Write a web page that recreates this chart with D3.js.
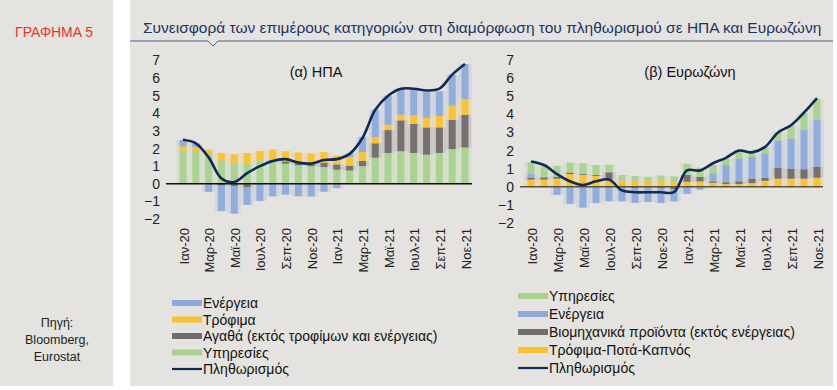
<!DOCTYPE html>
<html><head><meta charset="utf-8">
<script src="https://cdn.jsdelivr.net/npm/d3@7"></script>
<style>
body{margin:0;background:#fff;}
text{font-family:"Liberation Sans",Arial,sans-serif;}
</style></head>
<body><svg id="c" width="837" height="390"></svg>
<script>
const months = ["Ιαν-20","Φεβ-20","Μαρ-20","Απρ-20","Μαϊ-20","Ιουν-20","Ιουλ-20","Αυγ-20","Σεπ-20","Οκτ-20","Νοε-20","Δεκ-20",
                "Ιαν-21","Φεβ-21","Μαρ-21","Απρ-21","Μαϊ-21","Ιουν-21","Ιουλ-21","Αυγ-21","Σεπ-21","Οκτ-21","Νοε-21"];
const tickLabels = ["Ιαν-20","Μαρ-20","Μαϊ-20","Ιουλ-20","Σεπ-20","Νοε-20","Ιαν-21","Μαρ-21","Μαϊ-21","Ιουλ-21","Σεπ-21","Νοε-21"];
const yTicks = [-2,-1,0,1,2,3,4,5,6,7];

// (α) ΗΠΑ
const usServices = [1.9,1.86,1.68,1.33,1.14,1.14,1.33,1.3,1.14,1.05,1.0,0.95,0.8,0.75,1.0,1.48,1.75,1.85,1.75,1.65,1.75,1.97,2.06];
const usGoods    = [0,0,0,-0.1,-0.14,-0.2,0,0.05,0.13,0.09,0.12,0.25,0.3,0.28,0.3,0.82,1.3,1.75,1.65,1.55,1.45,1.66,1.86];
const usFood     = [0.23,0.23,0.26,0.42,0.53,0.61,0.53,0.6,0.57,0.63,0.6,0.6,0.5,0.5,0.5,0.35,0.3,0.32,0.5,0.55,0.65,0.8,0.88];
const usEnergy   = [0.35,0.2,-0.46,-1.45,-1.56,-1.0,-0.98,-0.71,-0.62,-0.71,-0.72,-0.45,-0.25,0.2,0.85,1.55,1.65,1.48,1.45,1.45,1.4,1.77,2.0];
const usInflation= [2.5,2.3,1.5,0.3,0.1,0.6,1.0,1.3,1.4,1.2,1.15,1.35,1.4,1.7,2.6,4.2,5.0,5.4,5.4,5.3,5.4,6.2,6.8];

// (β) Ευρωζώνη
const euFood     = [0.4,0.4,0.45,0.7,0.65,0.6,0.4,0.33,0.33,0.35,0.35,0.25,0.28,0.3,0.22,0.15,0.15,0.2,0.33,0.45,0.45,0.45,0.5];
const euIndustrial=[0.1,0.12,0.1,0.08,0.05,0.05,0.4,-0.03,-0.08,-0.03,-0.08,-0.13,0.37,0.25,0.08,0.1,0.15,0.25,0.17,0.6,0.55,0.52,0.6];
const euEnergy   = [0.2,-0.03,-0.45,-0.95,-1.15,-0.9,-0.8,-0.77,-0.81,-0.81,-0.82,-0.68,-0.39,-0.16,0.45,0.95,1.25,1.2,1.35,1.5,1.65,2.18,2.6];
const euServices = [0.65,0.72,0.6,0.55,0.6,0.55,0.42,0.32,0.27,0.2,0.27,0.32,0.62,0.5,0.45,0.35,0.45,0.25,0.35,0.45,0.7,0.9,1.15];
const euInflation= [1.4,1.2,0.7,0.3,0.1,0.3,0.4,-0.2,-0.3,-0.3,-0.3,-0.3,0.9,0.9,1.3,1.6,2.0,1.9,2.2,3.0,3.4,4.1,4.9];

const C = {green:"#a9d18e", blue:"#8eaadb", yellow:"#f9c131", gray:"#716d6d", line:"#0f2b55", bg:"#e4e3df"};

const svg = d3.select("#c");
svg.append("rect").attr("x",0).attr("y",0).attr("width",113).attr("height",386).attr("fill",C.bg);
svg.append("rect").attr("x",130).attr("y",0).attr("width",703).attr("height",386).attr("fill",C.bg);

function fitText(sel, target){
  const w = sel.node().getComputedTextLength();
  const fs = parseFloat(sel.attr("font-size"));
  sel.attr("font-size", fs*target/w);
}
const g5 = svg.append("text").attr("x",15).attr("y",37).attr("fill","#e2372c")
  .attr("font-size",13).style("font-family","'Liberation Sans Narrow','Liberation Sans',Arial").text("ΓΡΑΦΗΜΑ 5");
fitText(g5, 78);
const title = svg.append("text").attr("x",143).attr("y",33).attr("fill","#1c3563")
  .attr("font-size",15).style("font-family","'Liberation Sans Narrow','Liberation Sans',Arial")
  .text("Συνεισφορά των επιμέρους κατηγοριών στη διαμόρφωση του πληθωρισμού σε ΗΠΑ και Ευρωζώνη");
fitText(title, 679);
svg.append("path").attr("d","M130,41 H208 L213,46 L218,41 H833").attr("fill","none").attr("stroke","#4a6590").attr("stroke-width",1);

["Πηγή:","Bloomberg,","Eurostat"].forEach((t,i)=>{
  svg.append("text").attr("x",57).attr("y",327+i*17).attr("text-anchor","middle").attr("font-size",12.5).attr("fill","#222").text(t);
});

function panel(o){
  const x = d3.scalePoint().domain(months).range([o.x0,o.x1]);
  const y = d3.scaleLinear().domain([-2,7]).range([o.yb,o.yt]);
  const g = svg.append("g");
  const data = months.map((m,i)=>{const d={m}; o.series.forEach(s=>d[s.key]=s.values[i]); return d;});
  const stack = d3.stack().keys(o.series.map(s=>s.key)).offset(d3.stackOffsetDiverging)(data);
  const step = x.step();
  stack.forEach((layer,k)=>{
    g.append("g").selectAll("rect").data(layer).join("rect")
      .attr("x",d=>x(d.data.m)-step/2).attr("width",step)
      .attr("y",d=>y(Math.max(d[0],d[1]))).attr("height",d=>Math.abs(y(d[0])-y(d[1])))
      .attr("fill",o.series[k].color).attr("opacity",0.22);
  });
  const bw = 7;
  stack.forEach((layer,k)=>{
    g.append("g").selectAll("rect").data(layer).join("rect")
      .attr("x",d=>x(d.data.m)-bw/2).attr("width",bw)
      .attr("y",d=>y(Math.max(d[0],d[1]))).attr("height",d=>Math.abs(y(d[0])-y(d[1])))
      .attr("fill",o.series[k].color).attr("opacity",0.95);
  });
  g.append("line").attr("x1",o.zx0).attr("x2",o.zx1).attr("y1",y(0)).attr("y2",y(0)).attr("stroke",o.zeroColor).attr("stroke-width",1.6);
  const line = d3.line().x((d,i)=>x(months[i])).y(d=>y(d)).curve(d3.curveCatmullRom.alpha(0.5));
  g.append("path").datum(o.line).attr("d",line).attr("fill","none").attr("stroke",C.line).attr("stroke-width",2.6);
  const ax = g.append("g").attr("transform",`translate(${o.axX},0)`)
    .call(d3.axisLeft(y).tickValues(yTicks).tickSize(0).tickPadding(0).tickFormat(d3.format("d")));
  ax.select(".domain").remove();
  ax.selectAll("text").attr("font-size",14).attr("fill","#222").style("font-family","'Liberation Sans',Arial");
  g.append("g").selectAll("text").data(tickLabels).join("text")
    .attr("transform",d=>`translate(${x(d)+1},${o.labY}) rotate(-90)`)
    .attr("text-anchor","end").attr("dy","0.35em").attr("font-size",13).attr("fill","#222").text(d=>d);
  g.append("text").attr("x",o.tx).attr("y",77).attr("text-anchor","middle").attr("font-size",14.5).attr("fill","#111").text(o.title);
  o.legend.forEach((l,i)=>{
    const ly = o.ly0 + i*o.ldy;
    if(l.type==="line") g.append("line").attr("x1",o.lx).attr("x2",o.lx+30).attr("y1",ly).attr("y2",ly).attr("stroke",C.line).attr("stroke-width",2.2);
    else g.append("rect").attr("x",o.lx).attr("y",ly-3).attr("width",30).attr("height",6).attr("fill",l.color);
    g.append("text").attr("x",o.lx+31).attr("y",ly).attr("dy","0.36em").attr("font-size",14).attr("fill","#111").text(l.name);
  });
}

panel({x0:183,x1:465,yt:60.5,yb:219,axX:160,zx0:166,zx1:472,zeroColor:"#111",labY:228,tx:316,title:"(α) ΗΠΑ",
  series:[{key:"s",values:usServices,color:C.green},{key:"g",values:usGoods,color:C.gray},{key:"f",values:usFood,color:C.yellow},{key:"e",values:usEnergy,color:C.blue}],
  line:usInflation, lx:172, ly0:303, ldy:16.5,
  legend:[{name:"Ενέργεια",color:C.blue},{name:"Τρόφιμα",color:C.yellow},{name:"Αγαθά (εκτός τροφίμων και ενέργειας)",color:C.gray},{name:"Υπηρεσίες",color:C.green},{name:"Πληθωρισμός",type:"line"}]});

panel({x0:531,x1:817,yt:60,yb:223,axX:514,zx0:520,zx1:823,zeroColor:"#5a5230",labY:228,tx:690,title:"(β) Ευρωζώνη",
  series:[{key:"f",values:euFood,color:C.yellow},{key:"i",values:euIndustrial,color:C.gray},{key:"e",values:euEnergy,color:C.blue},{key:"s",values:euServices,color:C.green}],
  line:euInflation, lx:518, ly0:296, ldy:18,
  legend:[{name:"Υπηρεσίες",color:C.green},{name:"Ενέργεια",color:C.blue},{name:"Βιομηχανικά προϊόντα (εκτός ενέργειας)",color:C.gray},{name:"Τρόφιμα-Ποτά-Καπνός",color:C.yellow},{name:"Πληθωρισμός",type:"line"}]});
</script></body></html>
